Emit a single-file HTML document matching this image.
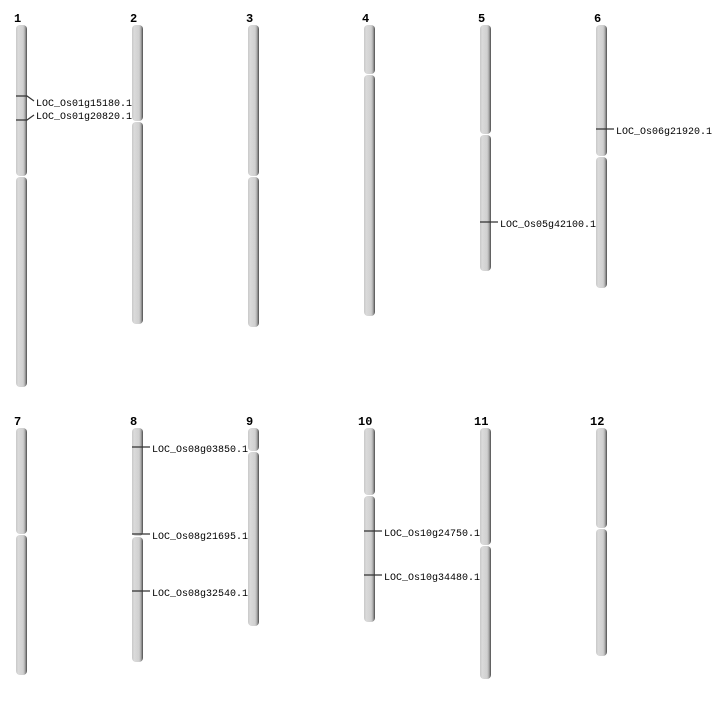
<!DOCTYPE html>
<html><head><style>body{margin:0;background:#fff}</style></head><body>
<svg width="712" height="700" xmlns="http://www.w3.org/2000/svg" font-family="Liberation Mono, monospace">
<defs><linearGradient id="g" x1="0" x2="1" y1="0" y2="0">
<stop offset="0" stop-color="#c8c8c8"/><stop offset="0.2" stop-color="#dadada"/><stop offset="0.65" stop-color="#d0d0d0"/><stop offset="0.82" stop-color="#a8a8a8"/><stop offset="1" stop-color="#4a4a4a"/></linearGradient></defs>
<g fill="url(#g)">
<rect x="16" y="25" width="11" height="151" rx="4"/><rect x="16" y="177" width="11" height="210" rx="4"/>
<rect x="132" y="25" width="11" height="96" rx="4"/><rect x="132" y="122" width="11" height="202" rx="4"/>
<rect x="248" y="25" width="11" height="151" rx="4"/><rect x="248" y="177" width="11" height="150" rx="4"/>
<rect x="364" y="25" width="11" height="49" rx="4"/><rect x="364" y="75" width="11" height="241" rx="4"/>
<rect x="480" y="25" width="11" height="109" rx="4"/><rect x="480" y="135" width="11" height="136" rx="4"/>
<rect x="596" y="25" width="11" height="131" rx="4"/><rect x="596" y="157" width="11" height="131" rx="4"/>
<rect x="16" y="428" width="11" height="106" rx="4"/><rect x="16" y="535" width="11" height="140" rx="4"/>
<rect x="132" y="428" width="11" height="108" rx="4"/><rect x="132" y="537" width="11" height="125" rx="4"/>
<rect x="248" y="428" width="11" height="23" rx="4"/><rect x="248" y="452" width="11" height="174" rx="4"/>
<rect x="364" y="428" width="11" height="67" rx="4"/><rect x="364" y="496" width="11" height="126" rx="4"/>
<rect x="480" y="428" width="11" height="117" rx="4"/><rect x="480" y="546" width="11" height="133" rx="4"/>
<rect x="596" y="428" width="11" height="100" rx="4"/><rect x="596" y="529" width="11" height="127" rx="4"/>
</g>
<g font-weight="bold" font-size="12" fill="#000">
<text x="14" y="22">1</text><text x="130" y="22">2</text><text x="246" y="22">3</text><text x="362" y="22">4</text><text x="478" y="22">5</text><text x="594" y="22">6</text>
<text x="14" y="425">7</text><text x="130" y="425">8</text><text x="246" y="425">9</text><text x="358" y="425">10</text><text x="474" y="425">11</text><text x="590" y="425">12</text>
</g>
<g stroke="#333" stroke-width="1.2" fill="none">
<polyline points="16,96 27,96 34,101"/><polyline points="16,120 27,120 34,115"/>
<line x1="596" y1="129" x2="614" y2="129"/>
<line x1="480" y1="222" x2="498" y2="222"/>
<line x1="132" y1="447" x2="150" y2="447"/><line x1="132" y1="534" x2="150" y2="534"/><line x1="132" y1="591" x2="150" y2="591"/>
<line x1="364" y1="531" x2="382" y2="531"/><line x1="364" y1="575" x2="382" y2="575"/>
</g>
<g font-size="10" fill="#000">
<text x="36" y="106">LOC_Os01g15180.1</text><text x="36" y="119">LOC_Os01g20820.1</text>
<text x="616" y="134">LOC_Os06g21920.1</text>
<text x="500" y="227">LOC_Os05g42100.1</text>
<text x="152" y="452">LOC_Os08g03850.1</text><text x="152" y="539">LOC_Os08g21695.1</text><text x="152" y="596">LOC_Os08g32540.1</text>
<text x="384" y="536">LOC_Os10g24750.1</text><text x="384" y="580">LOC_Os10g34480.1</text>
</g>
</svg>
</body></html>
